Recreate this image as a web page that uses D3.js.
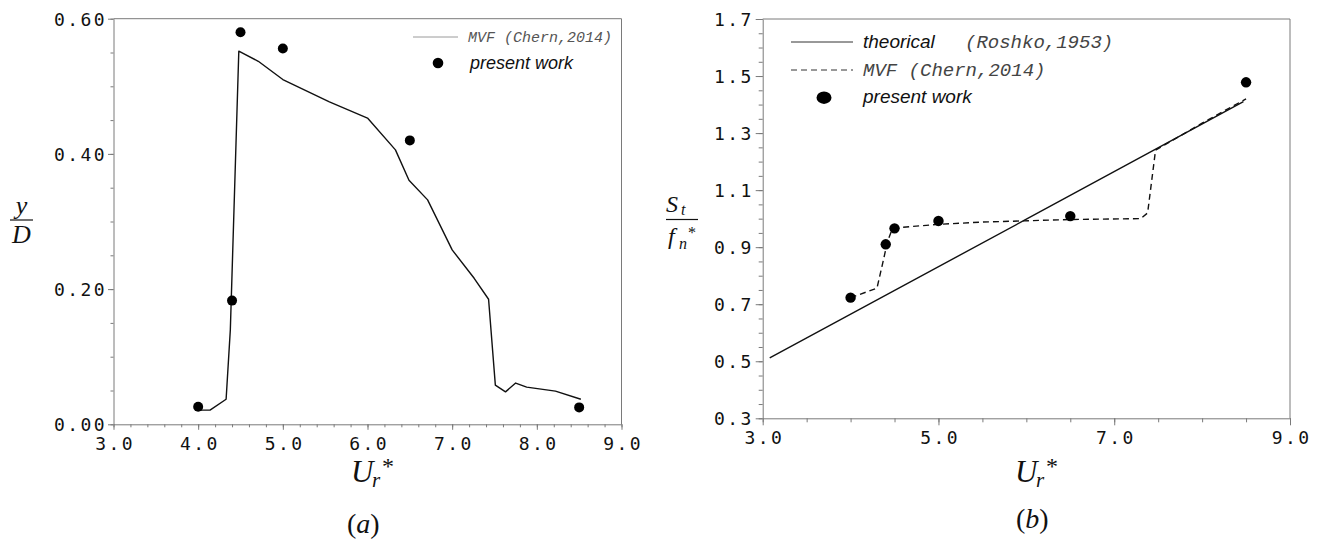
<!DOCTYPE html>
<html>
<head>
<meta charset="utf-8">
<script src="https://cdn.jsdelivr.net/npm/d3@7"></script>
<style>
  body { margin: 0; background: #fff; }
  svg { display: block; }
  .tick text { font-family: "DejaVu Sans Mono", monospace; font-size: 18px; letter-spacing: 2.4px; fill: #111; }
  .domain, .tick line { stroke: #7a7a7a; }
  .math { font-family: "Liberation Serif", "DejaVu Serif", serif; fill: #111; }
</style>
</head>
<body>
<svg id="fig" width="1327" height="547"></svg>
<script>
// ---------- panel (a): transverse amplitude y/D against reduced velocity ----------
const ampMvfUr  = [4.0, 4.14, 4.33, 4.38, 4.48, 4.71, 5.0, 5.55, 6.0, 6.33, 6.49, 6.71, 7.0, 7.26, 7.43, 7.51, 7.63, 7.75, 7.88, 8.22, 8.52];
const ampMvfY   = [0.021, 0.021, 0.037, 0.14, 0.552, 0.537, 0.51, 0.477, 0.453, 0.406, 0.361, 0.332, 0.258, 0.216, 0.185, 0.058, 0.048, 0.061, 0.055, 0.049, 0.037];
const ampWorkUr = [4.0, 4.4, 4.5, 5.0, 6.5, 8.5];
const ampWorkY  = [0.026, 0.183, 0.58, 0.556, 0.42, 0.025];
const ampXTicks = [3, 4, 5, 6, 7, 8, 9];
const ampYTicks = [0, 0.2, 0.4, 0.6];

// ---------- panel (b): Strouhal ratio St/fn* against reduced velocity ----------
const roshkoUr  = [3.08, 6.0, 8.47];
const roshkoSt  = [0.512, 0.998, 1.41];
const stMvfUr   = [4.0, 4.3, 4.37, 4.42, 4.47, 4.52, 5.0, 5.5, 6.5, 7.3, 7.38, 7.47, 8.0, 8.5];
const stMvfSt   = [0.723, 0.756, 0.85, 0.92, 0.96, 0.968, 0.98, 0.988, 0.997, 1.0, 1.02, 1.24, 1.335, 1.42];
const stWorkUr  = [4.0, 4.4, 4.5, 5.0, 6.5, 8.5];
const stWorkSt  = [0.723, 0.91, 0.966, 0.992, 1.009, 1.478];
const stXTicks  = [3, 5, 7, 9];
const stYTicks  = [0.3, 0.5, 0.7, 0.9, 1.1, 1.3, 1.5, 1.7];

const svg = d3.select("#fig");
const fmt1 = d3.format(".1f"), fmt2 = d3.format(".2f");

function frame(g, x, y, xt, yt, xMinor, yMinor, fx, fy, big) {
  const maj = big ? 7 : 5.5, mnr = big ? 4 : 3;
  const [x0, x1] = x.range(), [y0, y1] = y.range();
  // minor ticks
  g.append("g").attr("transform", `translate(0,${y0})`)
    .call(d3.axisBottom(x).tickValues(xMinor).tickSize(mnr).tickFormat(""))
    .call(s => s.select(".domain").remove());
  g.append("g").attr("transform", `translate(${x0},0)`)
    .call(d3.axisLeft(y).tickValues(yMinor).tickSize(mnr).tickFormat(""))
    .call(s => s.select(".domain").remove());
  // major ticks with labels
  const ax = g.append("g").attr("transform", `translate(0,${y0})`)
    .call(d3.axisBottom(x).tickValues(xt).tickSize(maj).tickSizeOuter(0).tickPadding(big ? 6 : 7).tickFormat(fx));
  ax.selectAll("text").attr("dx", "1.2px");
  const ay = g.append("g").attr("transform", `translate(${x0},0)`)
    .call(d3.axisLeft(y).tickValues(yt).tickSize(maj).tickSizeOuter(0).tickPadding(big ? 2 : 1).tickFormat(fy));
  ay.selectAll("text").attr("dy", "0.36em");
  // top and right borders
  g.append("path").attr("d", `M${x0},${y1}H${x1}V${y0}`).attr("fill", "none").attr("stroke", "#7a7a7a");
}

function range(a, b, s) { const out = []; for (let v = a; v <= b + 1e-9; v += s) out.push(+v.toFixed(3)); return out; }

// U_r^* written as one text with positioned pieces
function urLabel(g, x0) {
  const t = g.append("text").attr("class", "math");
  t.append("tspan").attr("x", x0).attr("y", 482).style("font-style", "italic").style("font-size", "31px").text("U");
  t.append("tspan").attr("x", x0 + 21).attr("y", 487).style("font-style", "italic").style("font-size", "21px").text("r");
  t.append("tspan").attr("x", x0 + 31).attr("y", 474).style("font-size", "24px").text("*");
}

// ===================== (a) =====================
{
  const x = d3.scaleLinear().domain([3, 9]).range([113.5, 621.5]);
  const y = d3.scaleLinear().domain([0, 0.6]).range([424.3, 18.7]);
  const g = svg.append("g");
  frame(g, x, y, ampXTicks, ampYTicks, range(3, 9, 0.2), range(0, 0.6, 0.05), fmt1, fmt2, false);

  const line = d3.line().x(d => x(d[0])).y(d => y(d[1]));
  g.append("path").datum(d3.zip(ampMvfUr, ampMvfY)).attr("d", line)
    .attr("fill", "none").attr("stroke", "#111").attr("stroke-width", 1.4).attr("stroke-linejoin", "round");
  g.selectAll("circle.work").data(d3.zip(ampWorkUr, ampWorkY)).join("circle").attr("class", "work")
    .attr("cx", d => x(d[0])).attr("cy", d => y(d[1])).attr("r", 5).attr("fill", "#000");

  // legend
  g.append("line").attr("x1", 413).attr("x2", 458).attr("y1", 37).attr("y2", 37).attr("stroke", "#9a9a9a");
  g.append("text").attr("x", 468).attr("y", 42).text("MVF (Chern,2014)")
    .style("font-family", "'Liberation Mono', monospace").style("font-style", "italic").style("font-size", "15px").attr("fill", "#555");
  g.append("circle").attr("cx", 438).attr("cy", 63).attr("r", 5.3).attr("fill", "#000");
  g.append("text").attr("x", 470).attr("y", 69).text("present work")
    .style("font-family", "'Liberation Sans', Arial, sans-serif").style("font-style", "italic").style("font-size", "18px").attr("fill", "#111");

  // axis titles
  const yl = g.append("g").attr("class", "math");
  yl.append("text").attr("x", 21.5).attr("y", 214).attr("text-anchor", "middle").style("font-style", "italic").style("font-size", "26px").text("y");
  yl.append("line").attr("x1", 10).attr("x2", 33).attr("y1", 220).attr("y2", 220).attr("stroke", "#111").attr("stroke-width", 1.2);
  yl.append("text").attr("x", 21.5).attr("y", 243).attr("text-anchor", "middle").style("font-style", "italic").style("font-size", "26px").text("D");

  urLabel(g, 351);

  const cap = g.append("text").attr("class", "math").attr("x", 347).attr("y", 533).style("font-size", "28px");
  cap.append("tspan").text("(");
  cap.append("tspan").style("font-style", "italic").text("a");
  cap.append("tspan").text(")");
}

// ===================== (b) =====================
{
  const x = d3.scaleLinear().domain([3, 9]).range([762.7, 1290]);
  const y = d3.scaleLinear().domain([0.3, 1.7]).range([418.3, 19]);
  const g = svg.append("g");
  frame(g, x, y, stXTicks, stYTicks, range(3, 9, 0.5), range(0.3, 1.7, 0.05), fmt1, fmt1, true);

  const line = d3.line().x(d => x(d[0])).y(d => y(d[1]));
  g.append("path").datum(d3.zip(roshkoUr, roshkoSt)).attr("d", line)
    .attr("fill", "none").attr("stroke", "#111").attr("stroke-width", 1.4);
  g.append("path").datum(d3.zip(stMvfUr, stMvfSt)).attr("d", line)
    .attr("fill", "none").attr("stroke", "#111").attr("stroke-width", 1.4).attr("stroke-dasharray", "6,4");
  g.selectAll("circle.work").data(d3.zip(stWorkUr, stWorkSt)).join("circle").attr("class", "work")
    .attr("cx", d => x(d[0])).attr("cy", d => y(d[1])).attr("r", 5.2).attr("fill", "#000");

  // legend
  const mono = "'Liberation Mono', monospace", sans = "'Liberation Sans', Arial, sans-serif";
  g.append("line").attr("x1", 791).attr("x2", 853).attr("y1", 42).attr("y2", 42).attr("stroke", "#333");
  g.append("text").attr("x", 863).attr("y", 48).text("theorical")
    .style("font-family", sans).style("font-style", "italic").style("font-size", "19px").attr("fill", "#111");
  g.append("text").attr("x", 965).attr("y", 48).text("(Roshko,1953)")
    .style("font-family", mono).style("font-style", "italic").style("font-size", "19px").attr("fill", "#444");
  g.append("line").attr("x1", 791).attr("x2", 853).attr("y1", 70).attr("y2", 70).attr("stroke", "#333").attr("stroke-dasharray", "6,4");
  g.append("text").attr("x", 863).attr("y", 76).text("MVF (Chern,2014)")
    .style("font-family", mono).style("font-style", "italic").style("font-size", "19px").attr("fill", "#444");
  g.append("ellipse").attr("cx", 824).attr("cy", 97.7).attr("rx", 7.5).attr("ry", 6.2).attr("fill", "#000");
  g.append("text").attr("x", 863).attr("y", 103).text("present work")
    .style("font-family", sans).style("font-style", "italic").style("font-size", "19px").attr("fill", "#111");

  // axis titles: S_t over f_n^*
  const yl = g.append("g").attr("class", "math");
  const num = yl.append("text");
  num.append("tspan").attr("x", 666).attr("y", 212).style("font-style", "italic").style("font-size", "24px").text("S");
  num.append("tspan").attr("x", 681).attr("y", 215).style("font-style", "italic").style("font-size", "16px").text("t");
  yl.append("line").attr("x1", 666).attr("x2", 698).attr("y1", 219.5).attr("y2", 219.5).attr("stroke", "#111").attr("stroke-width", 1.2);
  const den = yl.append("text");
  den.append("tspan").attr("x", 668).attr("y", 244).style("font-style", "italic").style("font-size", "24px").text("f");
  den.append("tspan").attr("x", 679).attr("y", 249).style("font-style", "italic").style("font-size", "16px").text("n");
  den.append("tspan").attr("x", 688).attr("y", 238).style("font-size", "16px").text("*");

  urLabel(g, 1015);

  const cap = g.append("text").attr("class", "math").attr("x", 1016).attr("y", 528).style("font-size", "28px");
  cap.append("tspan").text("(");
  cap.append("tspan").style("font-style", "italic").text("b");
  cap.append("tspan").text(")");
}
</script>
</body>
</html>
